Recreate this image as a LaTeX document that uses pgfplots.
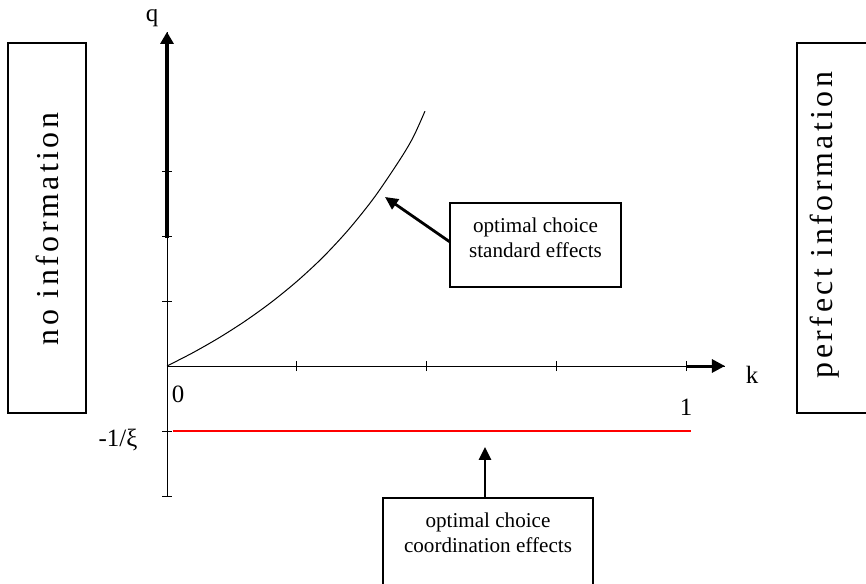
\documentclass[border=0pt]{standalone}
\usepackage{fontspec}
\setmainfont{Liberation Serif}
\newfontfamily\spaced[LetterSpace=11]{Liberation Serif}
\usepackage{pgfplots}
\pgfplotsset{compat=1.18}
\usetikzlibrary{arrows.meta}

\begin{document}
\begin{tikzpicture}
\useasboundingbox (0,0) rectangle (433bp,-292bp);
\clip (0,0) rectangle (433bp,-292bp);
\begin{axis}[
    at={(83.5bp,-248bp)}, anchor=south west,
    x=259.5bp, y=32.5bp,
    xmin=0, xmax=1.075, ymin=-2, ymax=5.14,
    axis lines=middle,
    axis line style={-, line width=0.5bp, black},
    xtick={0.25,0.5,0.75,1}, ytick={-2,-1,0,1,2,3},
    xticklabels={}, yticklabels={},
    major tick length=5bp, tick align=center,
    tick style={black, line width=0.5bp},
    clip=false,
    ]
    % optimal choice, standard effects
    \addplot[black, line width=0.5bp, smooth] coordinates {
        (0,0) (0.05,0.205) (0.10,0.433) (0.15,0.688) (0.20,0.975) (0.25,1.30)
        (0.30,1.67) (0.35,2.10) (0.40,2.60) (0.45,3.19) (0.475,3.53) (0.497,3.92)};
    % optimal choice, coordination effects
    \addplot[red, line width=1bp] coordinates {(0.0116,-1) (1.0096,-1)};
    \draw[line width=1.8bp, -{Triangle[length=6bp,width=6.5bp]}]
        (axis cs:0,1.97) -- (axis cs:0,5.14);
    \draw[line width=1.5bp, -{Triangle[length=6.5bp,width=6.5bp]}]
        (axis cs:1,0) -- (axis cs:1.075,0);
\end{axis}

\begin{scope}[x=0.5bp, y=-0.5bp]
    \node[font=\fontsize{12.5}{14}\selectfont] at (152,18) {q};
    \node[font=\fontsize{12.5}{14}\selectfont] at (752,375) {k};
    \node[font=\fontsize{12.5}{14}\selectfont] at (178,394) {0};
    \node[font=\fontsize{12.5}{14}\selectfont] at (686,407) {1};
    \node[font=\fontsize{12.5}{14}\selectfont] at (118,440) {-1/ξ};

    \draw[line width=0.6bp] (8,43) rectangle (86,413);
    \node[rotate=90, font=\spaced\fontsize{16}{18}\selectfont] at (47,229) {no information};
    \draw[line width=0.6bp] (797,43) rectangle (875,413);
    \node[rotate=90, font=\spaced\fontsize{16}{18}\selectfont] at (825,225) {perfect information};

    \draw[line width=0.6bp] (450,203) rectangle (621,287);
    \node[align=center, font=\fontsize{10.6}{12.5}\selectfont] at (535.5,237.5)
        {optimal choice\\standard effects};
    \draw[line width=1.4bp, -{Triangle[length=6.5bp,width=6bp]}] (450,242) -- (385,197);

    \draw[line width=0.6bp] (383,498) rectangle (593,600);
    \node[align=center, font=\fontsize{10.6}{12.5}\selectfont] at (488,532.5)
        {optimal choice\\coordination effects};
    \draw[line width=1.4bp, -{Triangle[length=6.5bp,width=6bp]}] (485,497) -- (485,447);
\end{scope}
\end{tikzpicture}
\end{document}
